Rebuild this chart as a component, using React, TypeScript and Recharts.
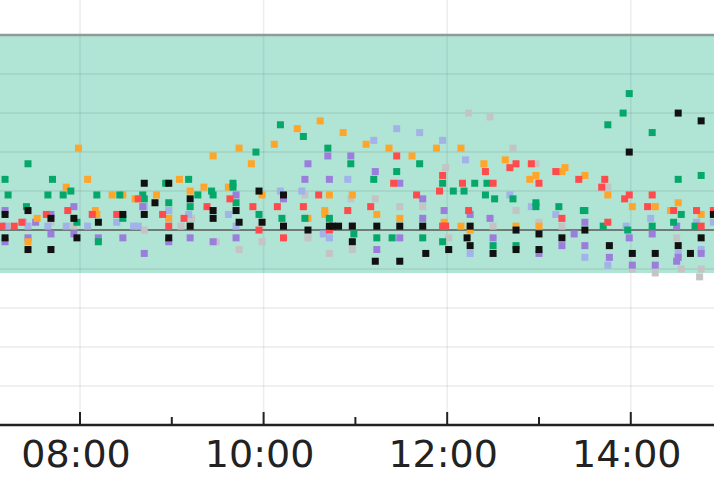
import { ScatterChart, Scatter, XAxis, YAxis, ReferenceArea, ReferenceLine } from 'recharts';

type Reading = [string, number];

// glucose readings (mmol/L) per day
const green: Reading[] = [
  ['07:11', 6.3], ['07:13', 5.9], ['07:25', 5.6], ['07:26', 6.7], ['07:39', 5.9], ['07:42', 6.3],
  ['07:49', 5.9], ['07:54', 6.0], ['07:58', 5.2], ['08:11', 5.9], ['08:12', 4.7], ['08:26', 5.9],
  ['08:28', 5.3], ['08:41', 5.9], ['08:42', 5.8], ['08:56', 6.2], ['08:58', 5.7], ['09:11', 6.3],
  ['09:12', 5.6], ['09:17', 5.9], ['09:26', 6.0], ['09:27', 5.9], ['09:40', 6.2], ['09:40', 6.1],
  ['09:42', 5.7], ['09:55', 7.0], ['09:57', 5.4], ['10:11', 7.7], ['10:12', 5.3], ['10:26', 7.4],
  ['10:27', 5.3], ['10:42', 7.1], ['10:43', 5.3], ['10:57', 6.7], ['10:59', 4.9], ['11:12', 6.3],
  ['11:14', 4.8], ['11:24', 4.8], ['11:27', 6.5], ['11:42', 6.7], ['11:44', 4.8], ['11:57', 6.2],
  ['11:57', 4.7], ['12:04', 6.0], ['12:11', 6.0], ['12:18', 6.2], ['12:25', 5.9], ['12:26', 6.2],
  ['12:30', 4.6], ['12:31', 5.8], ['12:43', 5.8], ['12:45', 4.6], ['12:58', 5.7], ['12:58', 5.6],
  ['13:13', 5.6], ['13:29', 5.5], ['13:30', 5.5], ['13:42', 5.1], ['13:45', 7.7], ['13:55', 8.0],
  ['13:58', 5.0], ['13:59', 8.5], ['14:14', 7.5], ['14:14', 5.1], ['14:28', 5.2], ['14:31', 6.3],
  ['14:33', 5.4], ['14:42', 5.1], ['14:46', 6.4],
];

const orange: Reading[] = [
  ['07:26', 4.7], ['07:32', 5.3], ['07:51', 6.1], ['07:59', 7.1], ['08:05', 6.3], ['08:10', 5.5],
  ['08:11', 5.4], ['08:21', 5.9], ['08:28', 5.9], ['08:36', 5.8], ['08:50', 5.9], ['08:58', 5.3],
  ['09:05', 6.3], ['09:12', 6.0], ['09:21', 6.1], ['09:27', 6.9], ['09:37', 6.1], ['09:44', 7.1],
  ['09:52', 6.7], ['09:59', 5.9], ['10:07', 7.2], ['10:22', 7.6], ['10:29', 5.3], ['10:37', 7.8],
  ['10:40', 5.5], ['10:40', 5.4], ['10:43', 5.9], ['10:52', 7.5], ['10:58', 5.9], ['11:07', 7.2],
  ['11:14', 5.4], ['11:22', 7.1], ['11:29', 5.3], ['11:37', 6.9], ['11:53', 7.1], ['11:58', 5.2],
  ['12:09', 7.1], ['12:09', 5.1], ['12:15', 5.0], ['12:24', 6.7], ['12:38', 6.8], ['12:45', 5.1],
  ['12:54', 6.3], ['12:58', 6.4], ['13:00', 5.1], ['13:15', 6.5], ['13:17', 6.6], ['13:30', 6.4],
  ['13:45', 5.9], ['14:01', 5.6], ['14:16', 5.6], ['14:26', 5.5], ['14:31', 5.7], ['14:46', 5.4],
];

const red: Reading[] = [
  ['07:09', 5.1], ['07:17', 5.1], ['07:22', 5.2], ['07:38', 5.4], ['07:52', 5.5], ['08:08', 5.4],
  ['08:24', 5.4], ['08:38', 5.8], ['08:54', 5.4], ['08:58', 5.1], ['09:08', 5.3], ['09:23', 5.6],
  ['09:38', 5.8], ['09:53', 5.6], ['09:57', 5.0], ['10:09', 5.6], ['10:13', 4.8], ['10:26', 5.6],
  ['10:36', 5.9], ['10:43', 5.0], ['10:55', 5.5], ['11:10', 5.6], ['11:25', 6.2], ['11:27', 6.9],
  ['11:40', 5.9], ['11:55', 6.0], ['11:57', 6.4], ['11:57', 5.1], ['11:59', 5.1], ['12:10', 6.2],
  ['12:14', 5.5], ['12:25', 6.5], ['12:30', 6.2], ['12:41', 6.6], ['12:45', 6.7], ['12:55', 6.7],
  ['13:00', 6.2], ['13:11', 6.5], ['13:15', 5.3], ['13:26', 6.3], ['13:41', 6.1], ['13:43', 6.3],
  ['13:45', 5.2], ['13:56', 5.8], ['13:59', 5.9], ['14:11', 5.6], ['14:14', 5.9], ['14:28', 5.5],
  ['14:43', 5.5], ['14:46', 5.1], ['14:54', 5.5],
];

const purple: Reading[] = [
  ['07:11', 5.5], ['07:11', 4.7], ['07:26', 4.8], ['07:31', 5.2], ['07:41', 5.4], ['07:41', 4.9],
  ['07:56', 5.6], ['07:56', 4.9], ['08:12', 4.8], ['08:28', 4.8], ['08:41', 5.6], ['08:42', 4.4],
  ['08:58', 4.7], ['09:12', 4.8], ['09:27', 4.7], ['09:42', 5.9], ['09:42', 4.8], ['10:13', 5.8],
  ['10:27', 6.3], ['10:29', 6.7], ['10:42', 6.9], ['10:43', 6.3], ['10:57', 6.9], ['10:58', 5.1],
  ['11:13', 6.5], ['11:14', 4.5], ['11:29', 6.2], ['11:29', 4.8], ['11:44', 5.8], ['11:44', 5.3],
  ['11:58', 5.5], ['12:15', 5.4], ['12:28', 5.3], ['12:30', 4.8], ['13:00', 4.4], ['13:15', 4.6],
  ['13:23', 4.9], ['13:30', 5.2], ['13:30', 4.6], ['13:46', 4.3], ['13:59', 4.8], ['14:01', 4.1],
  ['14:14', 4.9], ['14:16', 4.1], ['14:30', 5.1], ['14:30', 4.2], ['14:31', 4.3], ['14:46', 4.4],
];

const lightBlue: Reading[] = [
  ['07:12', 5.1], ['07:23', 5.2], ['07:26', 5.1], ['07:39', 5.1], ['07:51', 5.1], ['08:05', 5.1],
  ['08:24', 5.2], ['08:35', 5.1], ['08:38', 5.1], ['08:42', 5.6], ['08:58', 5.5], ['09:11', 5.4],
  ['09:37', 5.4], ['09:42', 5.1], ['10:11', 6.0], ['10:25', 6.0], ['10:39', 4.9], ['10:43', 4.8],
  ['10:55', 6.3], ['11:12', 7.3], ['11:27', 7.6], ['11:42', 7.5], ['11:57', 7.3], ['12:12', 6.8],
  ['12:15', 4.4], ['12:41', 5.9], ['12:55', 5.6], ['13:11', 5.4], ['13:30', 4.3], ['13:45', 4.1],
  ['13:57', 5.1], ['14:13', 5.3], ['14:31', 4.4], ['14:43', 5.2], ['14:46', 4.5], ['14:54', 5.2],
];

const gray: Reading[] = [
  ['07:41', 5.2], ['07:56', 5.1], ['08:42', 5.0], ['09:06', 5.1], ['09:13', 5.3], ['09:29', 4.7],
  ['09:44', 4.5], ['09:59', 4.7], ['10:27', 5.9], ['10:29', 4.8], ['10:43', 4.4], ['10:57', 5.8],
  ['10:58', 4.5], ['11:13', 5.8], ['11:29', 5.6], ['11:44', 5.6], ['11:59', 6.6], ['12:01', 4.8],
  ['12:14', 8.0], ['12:28', 7.9], ['12:30', 5.1], ['12:43', 7.1], ['12:45', 5.5], ['12:58', 6.7],
  ['13:00', 5.2], ['13:15', 5.1], ['13:45', 6.1], ['14:01', 4.0], ['14:16', 3.9], ['14:30', 4.8],
  ['14:33', 4.0], ['14:45', 3.8], ['14:46', 4.0],
];

const black: Reading[] = [
  ['07:11', 5.4], ['07:11', 4.8], ['07:26', 5.5], ['07:26', 4.5], ['07:41', 5.3], ['07:41', 4.5],
  ['07:56', 5.3], ['07:58', 4.8], ['08:12', 5.2], ['08:28', 5.4], ['08:42', 6.2], ['08:42', 5.4],
  ['08:49', 5.7], ['08:58', 6.2], ['08:58', 4.8], ['09:12', 5.8], ['09:12', 5.1], ['09:27', 5.5],
  ['09:27', 5.3], ['09:42', 5.5], ['09:44', 5.2], ['09:57', 6.0], ['09:59', 5.2], ['10:13', 5.9],
  ['10:13', 5.1], ['10:29', 5.0], ['10:43', 5.1], ['10:45', 5.1], ['10:49', 5.1], ['10:58', 5.1],
  ['10:58', 4.7], ['11:13', 4.2], ['11:14', 5.1], ['11:29', 5.1], ['11:29', 4.2], ['11:44', 5.1],
  ['11:46', 4.4], ['12:01', 4.5], ['12:13', 4.8], ['12:15', 5.1], ['12:15', 4.6], ['12:30', 4.4],
  ['12:45', 5.0], ['12:45', 4.5], ['13:00', 4.9], ['13:00', 4.5], ['13:15', 4.8], ['13:30', 5.0],
  ['13:46', 4.6], ['13:59', 7.0], ['14:01', 4.4], ['14:16', 4.4], ['14:31', 8.0], ['14:31', 4.6],
  ['14:39', 4.4], ['14:46', 7.8], ['14:46', 4.8], ['14:54', 5.4],
];

const hourTicks = [480, 540, 600, 660, 720, 780, 840];
const gridHours = [480, 600, 720, 840];
const gridValues = [1, 2, 3, 4, 6, 7, 8, 9];
const targetLow = 3.9;
const targetHigh = 10;
const baseline = 5;

const toMinutes = (hm: string) => {
  const [h, m] = hm.split(':').map(Number);
  return h * 60 + m;
};
const toPoints = (rows: Reading[]) => rows.map(([hm, v]) => ({ t: toMinutes(hm), v }));

const series = [
  { name: 'gray', color: '#c4c4c4', rows: gray },
  { name: 'lightBlue', color: '#a2b3ea', rows: lightBlue },
  { name: 'purple', color: '#9b7edb', rows: purple },
  { name: 'orange', color: '#ffa52a', rows: orange },
  { name: 'green', color: '#05a86a', rows: green },
  { name: 'red', color: '#ff4b4b', rows: red },
  { name: 'black', color: '#111111', rows: black },
];

const Square = (props: any) => {
  const { cx, cy, fill } = props;
  return <rect x={cx - 3.5} y={cy - 3.5} width={7} height={7} fill={fill} />;
};

const TimeTick = ({ x, y, payload }: any) => {
  const hour = payload.value / 60;
  const major = hour % 2 === 0;
  return (
    <g>
      <line x1={x} x2={x} y1={y} y2={y - (major ? 13 : 8)} stroke="#222" strokeWidth={2} />
      {major && (
        <text x={x - 4} y={y + 42} textAnchor="middle" fontSize={38} fontFamily="DejaVu Sans" fill="#222">
          {String(hour).padStart(2, '0')}:00
        </text>
      )}
    </g>
  );
};

const App = () => {
  return (
    <div style={{ position: 'absolute', left: 0, top: 0, width: 714, height: 484, background: '#fff', overflow: 'hidden' }}>
      <ScatterChart width={714} height={484} margin={{ top: 0, right: 0, bottom: 0, left: 0 }}>
        <XAxis
          dataKey="t"
          type="number"
          domain={[427.7, 894.4]}
          allowDataOverflow
          ticks={hourTicks}
          interval={0}
          height={59}
          tickSize={0}
          tickMargin={0}
          tickLine={false}
          axisLine={{ stroke: '#222', strokeWidth: 2.5 }}
          tick={<TimeTick />}
        />
        <YAxis dataKey="v" type="number" domain={[0, 10.9]} allowDataOverflow hide />
        <ReferenceArea y1={targetLow} y2={targetHigh} fill="#b0e4d4" fillOpacity={1} stroke="none" />
        {gridValues.map((v) => (
          <ReferenceLine key={`h-${v}`} y={v} stroke="rgba(0,0,0,0.08)" strokeWidth={1.5} />
        ))}
        {gridHours.map((h) => (
          <ReferenceLine key={`v-${h}`} x={h} stroke="rgba(60,60,110,0.09)" strokeWidth={1.5} />
        ))}
        <ReferenceLine y={targetHigh} stroke="#8e9c97" strokeWidth={2.5} />
        <ReferenceLine y={baseline} stroke="#6e7c77" strokeWidth={2} />
        {series.map((s) => (
          <Scatter
            key={s.name}
            data={toPoints(s.rows)}
            fill={s.color}
            shape={<Square />}
            isAnimationActive={false}
          />
        ))}
      </ScatterChart>
    </div>
  );
};

export default App;
